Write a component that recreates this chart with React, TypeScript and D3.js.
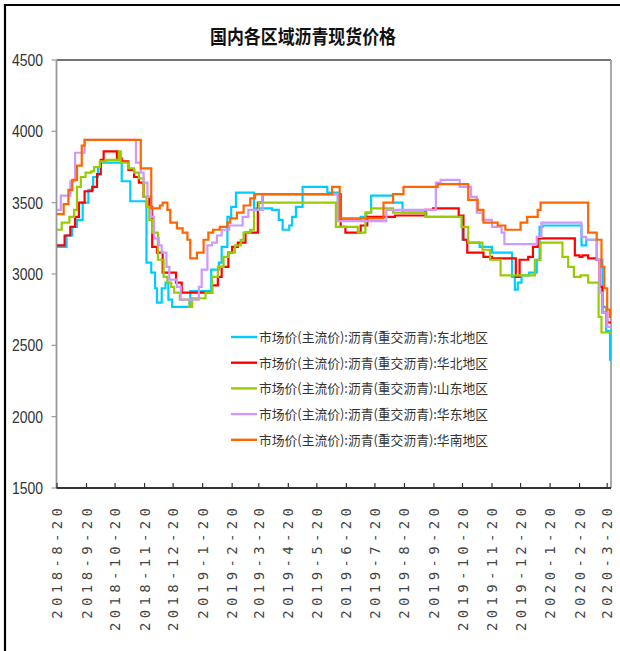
import React from "react";
import * as d3 from "d3";

const title = "国内各区域沥青现货价格";
const seriesNames = [
  "市场价(主流价):沥青(重交沥青):东北地区",
  "市场价(主流价):沥青(重交沥青):华北地区",
  "市场价(主流价):沥青(重交沥青):山东地区",
  "市场价(主流价):沥青(重交沥青):华东地区",
  "市场价(主流价):沥青(重交沥青):华南地区",
];
const seriesColors = ["#00CCFF", "#FF0000", "#99CC00", "#CC99FF", "#FF6600"];
const yTicks = [1500, 2000, 2500, 3000, 3500, 4000, 4500];
const xTickDates = [
  "2018-08-20", "2018-09-20", "2018-10-20", "2018-11-20", "2018-12-20",
  "2019-01-20", "2019-02-20", "2019-03-20", "2019-04-20", "2019-05-20",
  "2019-06-20", "2019-07-20", "2019-08-20", "2019-09-20", "2019-10-20",
  "2019-11-20", "2019-12-20", "2020-01-20", "2020-02-20", "2020-03-20",
];
const xTickLabels = [
  "2018-8-20", "2018-9-20", "2018-10-20", "2018-11-20", "2018-12-20",
  "2019-1-20", "2019-2-20", "2019-3-20", "2019-4-20", "2019-5-20",
  "2019-6-20", "2019-7-20", "2019-8-20", "2019-9-20", "2019-10-20",
  "2019-11-20", "2019-12-20", "2020-1-20", "2020-2-20", "2020-3-20",
];
const domainStart = "2018-08-20";
const domainEnd = "2020-03-24";

const dongbei: [string, number][] = [
  ["2018-08-20", 3190], ["2018-08-30", 3270], ["2018-09-05", 3330], ["2018-09-10", 3380],
  ["2018-09-16", 3500], ["2018-09-22", 3590], ["2018-09-27", 3680], ["2018-10-02", 3750],
  ["2018-10-05", 3780], ["2018-10-27", 3650], ["2018-11-05", 3510], ["2018-11-22", 3080],
  ["2018-11-27", 3010], ["2018-12-01", 2900], ["2018-12-03", 2800], ["2018-12-08", 2900],
  ["2018-12-12", 2940], ["2018-12-15", 2820], ["2018-12-19", 2770], ["2019-01-07", 2880],
  ["2019-01-29", 3030], ["2019-02-06", 3080], ["2019-02-09", 3190], ["2019-02-15", 3400],
  ["2019-02-19", 3470], ["2019-02-24", 3570], ["2019-03-15", 3460], ["2019-04-03", 3450],
  ["2019-04-10", 3380], ["2019-04-14", 3310], ["2019-04-21", 3340], ["2019-04-24", 3400],
  ["2019-04-28", 3470], ["2019-05-05", 3610], ["2019-05-31", 3570], ["2019-06-11", 3380],
  ["2019-07-05", 3400], ["2019-07-11", 3430], ["2019-07-16", 3550], ["2019-08-08", 3500],
  ["2019-08-18", 3430], ["2019-09-12", 3400], ["2019-10-20", 3240], ["2019-10-25", 3220],
  ["2019-11-07", 3190], ["2019-11-20", 3150], ["2019-12-11", 2980], ["2019-12-14", 2890],
  ["2019-12-17", 2940], ["2019-12-21", 2990], ["2019-12-29", 3010], ["2020-01-06", 3100],
  ["2020-01-09", 3330], ["2020-01-12", 3340], ["2020-02-22", 3200], ["2020-02-27", 3240],
  ["2020-03-09", 3100], ["2020-03-15", 2770], ["2020-03-19", 2600], ["2020-03-23", 2400],
  ["2020-03-24", 2400],
];

const huabei: [string, number][] = [
  ["2018-08-20", 3200], ["2018-08-28", 3270], ["2018-09-03", 3330], ["2018-09-08", 3400],
  ["2018-09-12", 3500], ["2018-09-18", 3580], ["2018-09-26", 3610], ["2018-10-01", 3700],
  ["2018-10-05", 3800], ["2018-10-08", 3860], ["2018-10-22", 3810], ["2018-10-27", 3790],
  ["2018-11-03", 3730], ["2018-11-09", 3680], ["2018-11-14", 3640], ["2018-11-19", 3540],
  ["2018-11-25", 3470], ["2018-11-28", 3190], ["2018-12-03", 3150], ["2018-12-09", 3010],
  ["2018-12-23", 2940], ["2018-12-29", 2870], ["2019-01-30", 2920], ["2019-02-05", 2980],
  ["2019-02-09", 3050], ["2019-02-16", 3150], ["2019-02-20", 3190], ["2019-02-26", 3220],
  ["2019-03-06", 3290], ["2019-03-19", 3500], ["2019-03-24", 3560], ["2019-06-14", 3330],
  ["2019-06-19", 3290], ["2019-07-05", 3340], ["2019-07-12", 3400], ["2019-08-10", 3410],
  ["2019-09-11", 3450], ["2019-09-19", 3460], ["2019-10-16", 3410], ["2019-10-21", 3240],
  ["2019-10-25", 3150], ["2019-11-11", 3120], ["2019-11-20", 3110], ["2019-12-15", 2980],
  ["2019-12-19", 3100], ["2019-12-28", 3120], ["2020-01-02", 3190], ["2020-01-07", 3250],
  ["2020-02-15", 3130], ["2020-02-20", 3120], ["2020-02-23", 3130], ["2020-02-29", 3110],
  ["2020-03-09", 3100], ["2020-03-12", 2910], ["2020-03-15", 2730], ["2020-03-20", 2660],
  ["2020-03-24", 2660],
];

const shandong: [string, number][] = [
  ["2018-08-20", 3310], ["2018-08-25", 3360], ["2018-09-02", 3400], ["2018-09-07", 3450],
  ["2018-09-10", 3610], ["2018-09-14", 3680], ["2018-09-19", 3710], ["2018-09-25", 3720],
  ["2018-09-28", 3750], ["2018-10-04", 3790], ["2018-10-11", 3800], ["2018-10-24", 3860],
  ["2018-10-26", 3780], ["2018-11-03", 3740], ["2018-11-09", 3710], ["2018-11-14", 3670],
  ["2018-11-19", 3540], ["2018-11-22", 3470], ["2018-11-25", 3380], ["2018-11-28", 3290],
  ["2018-12-04", 3100], ["2018-12-10", 2980], ["2018-12-14", 2940], ["2018-12-18", 2910],
  ["2018-12-21", 2870], ["2018-12-27", 2820], ["2019-01-06", 2770], ["2019-01-09", 2830],
  ["2019-01-23", 2870], ["2019-01-30", 2980], ["2019-02-05", 3050], ["2019-02-11", 3120],
  ["2019-02-16", 3150], ["2019-02-23", 3200], ["2019-03-01", 3240], ["2019-03-04", 3290],
  ["2019-03-11", 3310], ["2019-03-15", 3450], ["2019-03-20", 3500], ["2019-06-09", 3330],
  ["2019-07-02", 3290], ["2019-07-10", 3430], ["2019-07-16", 3460], ["2019-08-08", 3430],
  ["2019-09-11", 3400], ["2019-10-19", 3330], ["2019-10-26", 3220], ["2019-11-10", 3170],
  ["2019-11-18", 3100], ["2019-11-29", 2990], ["2020-01-04", 3100], ["2020-01-10", 3220],
  ["2020-02-02", 3120], ["2020-02-08", 3050], ["2020-02-14", 2980], ["2020-02-21", 2990],
  ["2020-02-29", 2940], ["2020-03-11", 2700], ["2020-03-14", 2590], ["2020-03-24", 2590],
];

const huadong: [string, number][] = [
  ["2018-08-20", 3450], ["2018-08-24", 3550], ["2018-09-03", 3650], ["2018-09-08", 3850],
  ["2018-09-18", 3940], ["2018-11-11", 3780], ["2018-11-16", 3710], ["2018-11-19", 3640],
  ["2018-11-23", 3540], ["2018-11-27", 3400], ["2018-11-30", 3250], ["2018-12-05", 3200],
  ["2018-12-08", 3150], ["2018-12-13", 3050], ["2018-12-16", 2960], ["2018-12-24", 2910],
  ["2018-12-28", 2820], ["2019-01-16", 2910], ["2019-01-19", 3030], ["2019-01-25", 3200],
  ["2019-01-30", 3220], ["2019-02-04", 3270], ["2019-02-09", 3310], ["2019-02-17", 3340],
  ["2019-03-03", 3400], ["2019-03-09", 3450], ["2019-03-24", 3560], ["2019-06-11", 3370],
  ["2019-08-01", 3450], ["2019-09-22", 3640], ["2019-09-27", 3660], ["2019-10-17", 3610],
  ["2019-10-29", 3540], ["2019-11-04", 3430], ["2019-11-10", 3380], ["2019-11-20", 3330],
  ["2019-11-30", 3290], ["2019-12-03", 3210], ["2020-01-06", 3260], ["2020-01-11", 3360],
  ["2020-02-22", 3260], ["2020-02-27", 3240], ["2020-03-09", 3100], ["2020-03-12", 2870],
  ["2020-03-15", 2730], ["2020-03-20", 2630], ["2020-03-24", 2630],
];

const huanan: [string, number][] = [
  ["2018-08-20", 3420], ["2018-08-27", 3490], ["2018-09-01", 3590], ["2018-09-05", 3660],
  ["2018-09-10", 3760], ["2018-09-15", 3900], ["2018-09-18", 3940], ["2018-11-16", 3740],
  ["2018-11-27", 3460], ["2018-12-06", 3480], ["2018-12-09", 3500], ["2018-12-14", 3450],
  ["2018-12-17", 3360], ["2018-12-24", 3320], ["2018-12-30", 3290], ["2019-01-04", 3240],
  ["2019-01-07", 3110], ["2019-01-14", 3150], ["2019-01-21", 3240], ["2019-01-26", 3290],
  ["2019-01-31", 3310], ["2019-02-07", 3330], ["2019-02-15", 3360], ["2019-02-18", 3390],
  ["2019-02-25", 3430], ["2019-03-04", 3480], ["2019-03-11", 3530], ["2019-03-16", 3560],
  ["2019-06-05", 3610], ["2019-06-13", 3390], ["2019-07-29", 3500], ["2019-08-08", 3560],
  ["2019-08-19", 3610], ["2019-09-24", 3630], ["2019-10-26", 3520], ["2019-11-05", 3450],
  ["2019-11-11", 3360], ["2019-11-26", 3340], ["2019-12-04", 3310], ["2019-12-20", 3360],
  ["2019-12-27", 3400], ["2020-01-07", 3450], ["2020-01-10", 3500], ["2020-02-29", 3290],
  ["2020-03-09", 3240], ["2020-03-14", 3050], ["2020-03-17", 2900], ["2020-03-20", 2750],
  ["2020-03-23", 2700], ["2020-03-24", 2700],
];

const allSeries = [dongbei, huabei, shandong, huadong, huanan];

const parse = d3.timeParse("%Y-%m-%d");

export default function App() {
  const W = 620;
  const H = 651;
  const left = 56.5;
  const right = 611;
  const top = 60;
  const bottom = 488;

  const x = d3
    .scaleTime()
    .domain([parse(domainStart) as Date, parse(domainEnd) as Date])
    .range([57, right]);
  const y = d3.scaleLinear().domain([1500, 4500]).range([bottom, top]);

  const line = d3
    .line<[string, number]>()
    .x((d) => x(parse(d[0]) as Date))
    .y((d) => y(d[1]))
    .curve(d3.curveStepAfter);

  const legendY0 = 337;
  const legendStep = 25.7;

  return (
    <svg
      width={W}
      height={H}
      style={{ position: "absolute", left: 0, top: 0, background: "#fff" }}
      fontFamily="'Noto Sans CJK SC', sans-serif"
    >
      <rect x={0} y={0} width={W} height={H} fill="#fff" />
      {/* outer frame (top & left visible) */}
      <line x1={4} y1={5} x2={W} y2={5} stroke="#000" strokeWidth={2.2} />
      <line x1={5} y1={4} x2={5} y2={H} stroke="#000" strokeWidth={2.2} />

      {/* title */}
      <text
        x={303}
        y={44}
        textAnchor="middle"
        fontSize={19}
        fontWeight="bold"
        fill="#111"
        textLength={186}
        lengthAdjust="spacingAndGlyphs"
      >
        {title}
      </text>

      {/* plot frame */}
      <line x1={left} y1={top} x2={right} y2={top} stroke="#444" strokeWidth={1.6} />
      <line x1={right} y1={top} x2={right} y2={bottom} stroke="#aaa" strokeWidth={2} />
      <line x1={left} y1={top} x2={left} y2={bottom} stroke="#999" strokeWidth={1.8} />

      {/* y ticks & labels */}
      {yTicks.map((t) => (
        <g key={t}>
          <line x1={left - 5} y1={y(t)} x2={left} y2={y(t)} stroke="#999" strokeWidth={1.2} />
          <text
            x={43}
            y={y(t) + 6}
            textAnchor="end"
            fontFamily="'Liberation Sans', sans-serif"
            fontSize={17}
            fill="#333"
            textLength={31}
            lengthAdjust="spacingAndGlyphs"
          >
            {t}
          </text>
        </g>
      ))}

      {/* x axis */}
      <line x1={left} y1={bottom} x2={right} y2={bottom} stroke="#333" strokeWidth={1.8} />
      {xTickDates.map((d, i) => {
        const xx = x(parse(d) as Date);
        const lab = xTickLabels[i];
        return (
          <g key={d}>
            <line x1={xx} y1={bottom} x2={xx} y2={bottom - 5} stroke="#333" strokeWidth={1.2} />
            <text
              transform={`translate(${xx + 5},${508}) rotate(-90)`}
              textAnchor="end"
              fontFamily="'DejaVu Sans Mono', monospace"
              fontSize={14}
              fill="#444"
              textLength={lab.length * 12.3}
              lengthAdjust="spacing"
            >
              {lab}
            </text>
          </g>
        );
      })}

      {/* series */}
      <g fill="none" strokeWidth={2.2} strokeLinejoin="miter">
        {allSeries.map((s, i) => (
          <path key={i} d={line(s) || ""} stroke={seriesColors[i]} />
        ))}
      </g>

      {/* legend */}
      {seriesNames.map((n, i) => {
        const ly = legendY0 + i * legendStep;
        return (
          <g key={n}>
            <line x1={231} y1={ly} x2={257} y2={ly} stroke={seriesColors[i]} strokeWidth={2.4} />
            <text
              x={259}
              y={ly + 5}
              fontSize={13}
              fill="#333"
              textLength={229}
              lengthAdjust="spacingAndGlyphs"
            >
              {n}
            </text>
          </g>
        );
      })}
    </svg>
  );
}
